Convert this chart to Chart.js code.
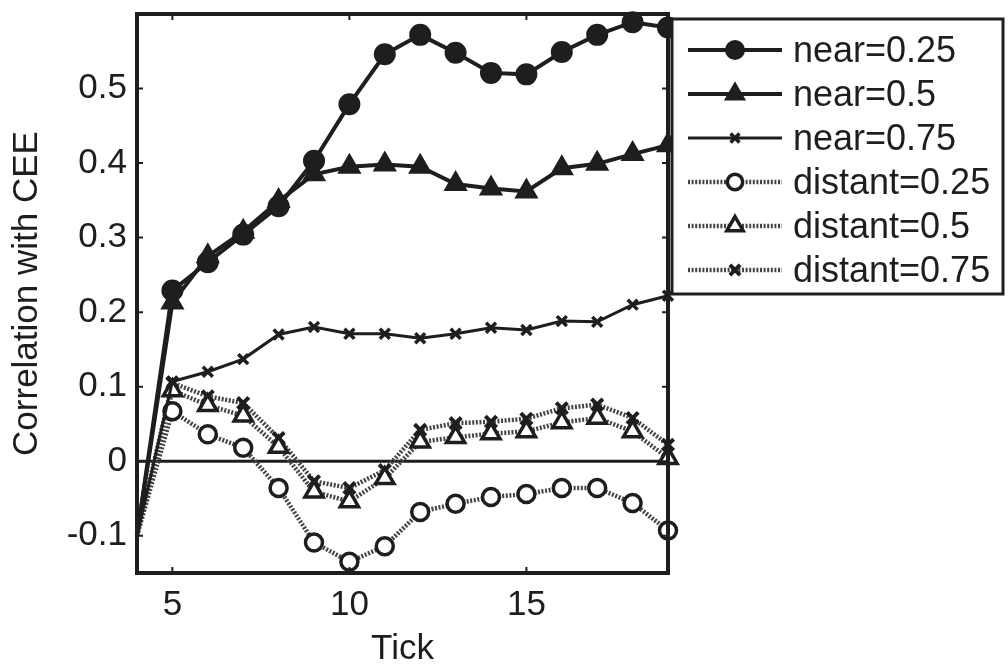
<!DOCTYPE html>
<html lang="en">
<head>
  <meta charset="UTF-8" />
  <title>Correlation with CEE</title>
  <script src="https://cdn.jsdelivr.net/npm/chart.js"></script>
  <style>
    body { margin: 0; background: #fff; }
    canvas { display: block; }
  </style>
</head>
<body>
  <canvas id="chart" width="1008" height="667"></canvas>

  <script>
    // data
    const ticks = [4, 5, 6, 7, 8, 9, 10, 11, 12, 13, 14, 15, 16, 17, 18, 19];
    const near25 = [-0.1, 0.229, 0.267, 0.304, 0.342, 0.403, 0.479, 0.546, 0.572, 0.548, 0.521, 0.519, 0.549, 0.572, 0.589, 0.582];
    const near50 = [-0.1, 0.213, 0.275, 0.308, 0.349, 0.385, 0.395, 0.398, 0.395, 0.372, 0.366, 0.362, 0.393, 0.399, 0.412, 0.424];
    const near75 = [-0.1, 0.107, 0.12, 0.137, 0.17, 0.18, 0.171, 0.171, 0.165, 0.171, 0.179, 0.176, 0.188, 0.187, 0.21, 0.222];
    const distant25 = [-0.1, 0.067, 0.036, 0.018, -0.036, -0.109, -0.135, -0.114, -0.068, -0.057, -0.048, -0.044, -0.036, -0.036, -0.056, -0.093];
    const distant50 = [-0.1, 0.095, 0.075, 0.061, 0.019, -0.041, -0.054, -0.023, 0.026, 0.032, 0.037, 0.04, 0.052, 0.058, 0.04, 0.004];
    const distant75 = [-0.1, 0.105, 0.087, 0.078, 0.031, -0.027, -0.036, -0.012, 0.042, 0.051, 0.053, 0.057, 0.071, 0.076, 0.058, 0.022];
    const xTicks = [5, 10, 15];
    const yTicks = [-0.1, 0, 0.1, 0.2, 0.3, 0.4, 0.5];

    const FONT = "'Liberation Sans', Arial, sans-serif";
    const INK = '#1e1e1e';

    function makeSet(label, values, s) {
      return {
        label,
        data: values.map((v, i) => ({ x: ticks[i], y: v })),
        borderColor: s.line,
        borderWidth: s.width,
        borderDash: s.dash || [],
        pointStyle: s.marker,
        markerRadius: s.r,
        pointRadius: c => c.dataIndex === 0 ? 0 : s.r,
        pointBackgroundColor: s.fill,
        pointBorderColor: INK,
        pointBorderWidth: s.bw,
        tension: 0,
        clip: false
      };
    }

    const datasets = [
      makeSet('near=0.25', near25, { line: INK, width: 4, marker: 'circle', r: 10, fill: INK, bw: 2 }),
      makeSet('near=0.5', near50, { line: INK, width: 4, marker: 'triangle', r: 12, fill: INK, bw: 2 }),
      makeSet('near=0.75', near75, { line: INK, width: 3, marker: 'crossRot', r: 7, fill: INK, bw: 3.5 }),
      makeSet('distant=0.25', distant25, { line: '#444', width: 4.5, dash: [2, 1.6], marker: 'circle', r: 8.5, fill: '#fff', bw: 3.5 }),
      makeSet('distant=0.5', distant50, { line: '#444', width: 4.5, dash: [2, 1.6], marker: 'triangle', r: 10.5, fill: '#fff', bw: 3.5 }),
      makeSet('distant=0.75', distant75, { line: '#444', width: 4.5, dash: [2, 1.6], marker: 'crossRot', r: 8, fill: INK, bw: 4 })
    ];

    // zero line under the data, box with inward ticks above it
    const framePlugin = {
      id: 'frame',
      beforeDatasetsDraw(chart) {
        const { ctx, chartArea: a, scales: { y } } = chart;
        const y0 = y.getPixelForValue(0);
        ctx.save();
        ctx.strokeStyle = INK;
        ctx.lineWidth = 3;
        ctx.beginPath();
        ctx.moveTo(a.left, y0);
        ctx.lineTo(a.right, y0);
        ctx.stroke();
        ctx.restore();
      },
      afterDatasetsDraw(chart) {
        const { ctx, chartArea: a, scales: { x, y } } = chart;
        ctx.save();
        ctx.strokeStyle = INK;
        ctx.lineWidth = 2;
        ctx.beginPath();
        xTicks.forEach(v => {
          const px = x.getPixelForValue(v);
          ctx.moveTo(px, a.bottom); ctx.lineTo(px, a.bottom - 6);
          ctx.moveTo(px, a.top); ctx.lineTo(px, a.top + 6);
        });
        yTicks.forEach(v => {
          const py = y.getPixelForValue(v);
          ctx.moveTo(a.left, py); ctx.lineTo(a.left + 6, py);
          ctx.moveTo(a.right, py); ctx.lineTo(a.right - 6, py);
        });
        ctx.stroke();
        ctx.lineWidth = 4;
        ctx.strokeRect(a.left, a.top, a.right - a.left, a.bottom - a.top);
        ctx.restore();
      }
    };

    // MATLAB style legend: line sample with the marker in the middle
    const legendPlugin = {
      id: 'boxLegend',
      afterDraw(chart) {
        const ctx = chart.ctx;
        const bx = 672, by = 19, bw = 331, bh = 275;
        ctx.save();
        ctx.fillStyle = '#fff';
        ctx.fillRect(bx, by, bw, bh);
        ctx.strokeStyle = INK;
        ctx.lineWidth = 3;
        ctx.strokeRect(bx, by, bw, bh);
        ctx.font = '36px ' + FONT;
        ctx.textBaseline = 'middle';
        chart.data.datasets.forEach((ds, i) => {
          const ry = 50 + i * 44;
          ctx.setLineDash(ds.borderDash);
          ctx.strokeStyle = ds.borderColor;
          ctx.lineWidth = ds.borderWidth;
          ctx.beginPath();
          ctx.moveTo(688, ry);
          ctx.lineTo(782, ry);
          ctx.stroke();
          ctx.setLineDash([]);
          ctx.fillStyle = ds.pointBackgroundColor;
          ctx.strokeStyle = ds.pointBorderColor;
          ctx.lineWidth = ds.pointBorderWidth;
          Chart.helpers.drawPoint(ctx, {
            pointStyle: ds.pointStyle,
            radius: ds.markerRadius * 0.9,
            borderWidth: ds.pointBorderWidth,
            rotation: 0
          }, 735, ry);
          ctx.fillStyle = INK;
          ctx.fillText(ds.label, 793, ry + 2);
        });
        ctx.restore();
      }
    };

    new Chart(document.getElementById('chart').getContext('2d'), {
      type: 'line',
      data: { datasets },
      plugins: [framePlugin, legendPlugin],
      options: {
        responsive: false,
        animation: false,
        layout: { padding: { top: 11, right: 340, left: 0, bottom: 0 } },
        plugins: { legend: { display: false }, tooltip: { enabled: false } },
        scales: {
          x: {
            type: 'linear',
            min: 4,
            max: 19,
            afterBuildTicks: s => { s.ticks = xTicks.map(v => ({ value: v })); },
            afterFit: s => { s.height = 94; s.paddingLeft = 0; s.paddingRight = 0; },
            grid: { display: false, drawTicks: false },
            border: { display: false },
            ticks: { font: { family: FONT, size: 35 }, color: INK, padding: 11, maxRotation: 0 },
            title: { display: true, text: 'Tick', font: { family: FONT, size: 35, lineHeight: 1 }, color: INK, padding: 0 }
          },
          y: {
            min: -0.15,
            max: 0.6,
            afterBuildTicks: s => { s.ticks = yTicks.map(v => ({ value: v })); },
            afterFit: s => { s.width = 137; s.paddingTop = 0; s.paddingBottom = 0; },
            grid: { display: false, drawTicks: false },
            border: { display: false },
            ticks: {
              font: { family: FONT, size: 35 },
              color: INK,
              padding: 10,
              callback: v => v === 0 ? '0' : v.toFixed(1)
            },
            title: { display: true, text: 'Correlation with CEE', font: { family: FONT, size: 35, lineHeight: 1 }, color: INK, padding: { top: 10, bottom: 0 } }
          }
        }
      }
    });
  </script>
</body>
</html>
